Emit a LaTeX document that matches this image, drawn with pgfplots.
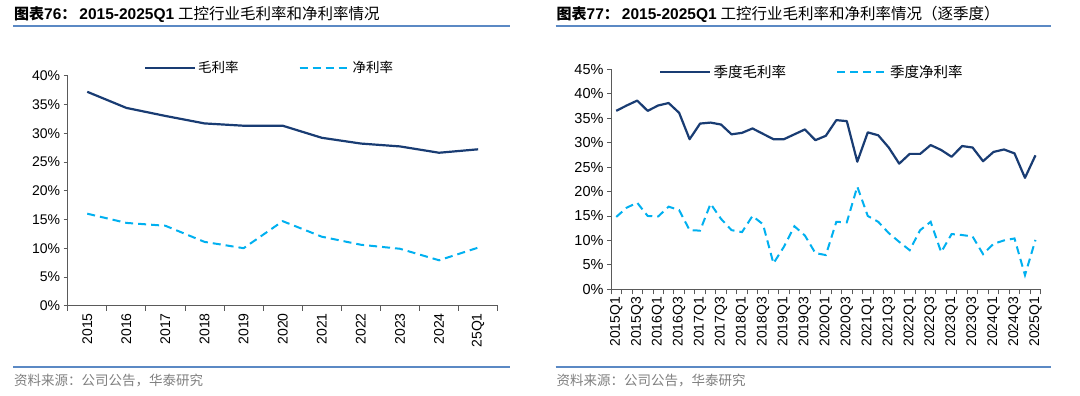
\documentclass[border=0pt]{standalone}
\usepackage{fontspec}
\setmainfont{Liberation Sans}
\newfontfamily\cjk{Noto Sans CJK SC}
\usepackage{pgfplots}
\usepackage{pgfplotstable}
\pgfplotsset{compat=1.18}
\definecolor{gross}{RGB}{25,60,115}
\definecolor{net}{RGB}{0,176,240}
\definecolor{titleblue}{RGB}{91,137,196}
\definecolor{axgray}{RGB}{90,90,90}

\pgfplotstableread{
x gross net
0 37.2 16.0
1 34.4 14.4
2 33.0 13.9
3 31.7 11.1
4 31.3 10.0
5 31.3 14.7
6 29.2 12.0
7 28.2 10.6
8 27.7 9.9
9 26.6 7.9
10 27.2 10.1
}\annualdata

\pgfplotstableread{
x gross net
0 36.5 14.8
1 37.6 16.7
2 38.6 17.7
3 36.5 15.0
4 37.6 14.9
5 38.1 16.9
6 36.1 16.2
7 30.7 12.1
8 33.9 12.0
9 34.1 17.5
10 33.7 14.4
11 31.7 12.1
12 32.0 11.7
13 32.9 15.0
14 31.8 13.3
15 30.7 5.3
16 30.7 8.7
17 31.7 12.9
18 32.7 11.0
19 30.5 7.4
20 31.4 7.0
21 34.6 13.8
22 34.4 13.7
23 26.1 21.0
24 32.1 15.0
25 31.5 13.8
26 29.0 11.5
27 25.7 9.7
28 27.7 8.0
29 27.7 12.1
30 29.5 13.8
31 28.5 7.6
32 27.1 11.3
33 29.3 11.1
34 29.0 10.8
35 26.2 7.2
36 28.1 9.3
37 28.6 10.0
38 27.8 10.4
39 22.8 2.9
40 27.4 10.1
}\quarterdata

\pgfplotsset{
  mystyle/.style={
    scale only axis,
    axis x line*=bottom, axis y line*=left,
    axis line style={axgray, line width=0.8pt},
    tick style={axgray, line width=0.8pt},
    tick align=outside,
    major tick length=4pt, minor tick length=5pt,
    major x tick style={draw=none},
    ymin=0,
    yticklabel={\pgfmathprintnumber{\tick}\%},
    /pgf/number format/assume math mode=true,
    xticklabel style={rotate=90, anchor=east, font=\fontsize{14}{14}\selectfont},
    legend image code/.code={\draw[##1] (0pt,0pt) -- (50pt,0pt);},
    legend cell align=left,
  },
  grossline/.style={gross, line width=2.2pt, line join=round},
  netline/.style={net, line width=2pt, dash pattern=on 8pt off 5pt},
}

\begin{document}
\begin{tikzpicture}
\useasboundingbox[fill=white] (0pt,0pt) rectangle (1080pt,396pt);

% titles
\node[anchor=base west, inner sep=0pt] at (14pt,376pt) {{\cjk\bfseries\fontsize{15}{15}\selectfont 图表}{\bfseries\fontsize{15.5}{16}\selectfont 76}{\cjk\bfseries\fontsize{15}{15}\selectfont ：}\hspace{3pt}{\bfseries\fontsize{15.5}{16}\selectfont 2015-2025Q1}\hspace{4pt}{\cjk\fontsize{15.5}{15.5}\selectfont 工控行业毛利率和净利率情况}};
\node[anchor=base west, inner sep=0pt] at (556.5pt,376pt) {{\cjk\bfseries\fontsize{15}{15}\selectfont 图表}{\bfseries\fontsize{15.5}{16}\selectfont 77}{\cjk\bfseries\fontsize{15}{15}\selectfont ：}\hspace{3pt}{\bfseries\fontsize{15.5}{16}\selectfont 2015-2025Q1}\hspace{4pt}{\cjk\fontsize{15.5}{15.5}\selectfont 工控行业毛利率和净利率情况（逐季度）}};
\draw[titleblue, line width=1.8pt] (13pt,370pt) -- (510pt,370pt);
\draw[titleblue, line width=1.8pt] (555.5pt,370pt) -- (1050.5pt,370pt);
\draw[titleblue, line width=1.8pt] (13pt,28.7pt) -- (510pt,28.7pt);
\draw[titleblue, line width=1.8pt] (555.5pt,28.7pt) -- (1050.5pt,28.7pt);
\node[anchor=base west, inner sep=0pt, text=gray] at (14pt,10.5pt) {\cjk\fontsize{13.5}{13.5}\selectfont 资料来源：公司公告，华泰研究};
\node[anchor=base west, inner sep=0pt, text=gray] at (556.5pt,10.5pt) {\cjk\fontsize{13.5}{13.5}\selectfont 资料来源：公司公告，华泰研究};

\begin{axis}[mystyle,
  at={(67.7pt,90.3pt)}, anchor=south west,
  width=430pt, height=230pt,
  xmin=-0.5, xmax=10.5, ymax=40,
  xtick={0,...,10},
  xticklabels={2015,2016,2017,2018,2019,2020,2021,2022,2023,2024,25Q1},
  minor xtick={-0.5,0.5,...,10.5},
  ytick={0,5,...,40},
  yticklabel style={font=\fontsize{14}{14}\selectfont},
  legend columns=2,
  legend style={draw=none, fill=none, at={(0.17,1.035)}, anchor=west,
    font=\cjk\fontsize{13.5}{13.5}\selectfont,
    /tikz/every even column/.append style={column sep=58pt}},
]
\addplot[grossline] table[x=x, y=gross] {\annualdata};
\addlegendentry{毛利率}
\addplot[netline] table[x=x, y=net] {\annualdata};
\addlegendentry{净利率}
\end{axis}

\begin{axis}[mystyle,
  at={(611pt,106.7pt)}, anchor=south west,
  width=429.7pt, height=220pt,
  xmin=-0.5, xmax=40.5, ymax=45,
  xtick={0,2,...,40},
  xticklabels={2015Q1,2015Q3,2016Q1,2016Q3,2017Q1,2017Q3,2018Q1,2018Q3,2019Q1,2019Q3,2020Q1,2020Q3,2021Q1,2021Q3,2022Q1,2022Q3,2023Q1,2023Q3,2024Q1,2024Q3,2025Q1},
  minor xtick={-0.5,0.5,...,40.5},
  ytick={0,5,...,45},
  yticklabel style={font=\fontsize{14.5}{14.5}\selectfont},
  legend columns=2,
  legend style={draw=none, fill=none, at={(0.105,0.988)}, anchor=west,
    font=\cjk\fontsize{14.5}{14.5}\selectfont,
    /tikz/every even column/.append style={column sep=48pt}},
]
\addplot[grossline] table[x=x, y=gross] {\quarterdata};
\addlegendentry{季度毛利率}
\addplot[netline] table[x=x, y=net] {\quarterdata};
\addlegendentry{季度净利率}
\end{axis}
\end{tikzpicture}
\end{document}
